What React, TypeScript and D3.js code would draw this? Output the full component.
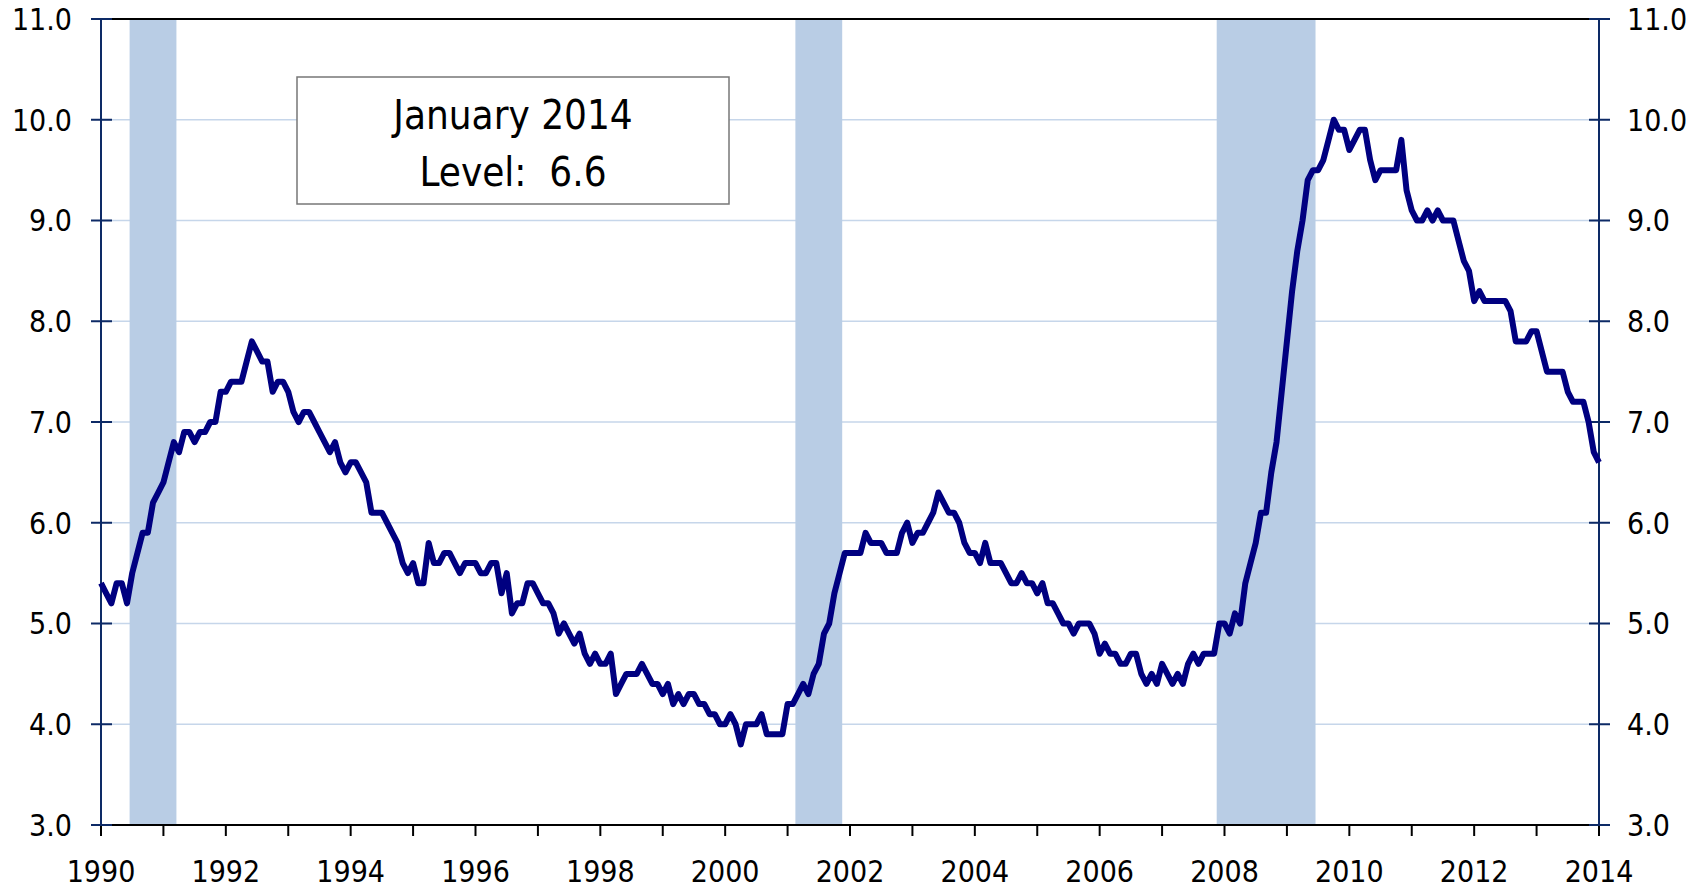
import React from 'react';
import * as d3 from 'd3';

// monthly unemployment rate, Jan 1990 .. Jan 2014
const START_YEAR = 1990;
const rates1990s = [
  5.4, 5.3, 5.2, 5.4, 5.4, 5.2, 5.5, 5.7, 5.9, 5.9, 6.2, 6.3,
  6.4, 6.6, 6.8, 6.7, 6.9, 6.9, 6.8, 6.9, 6.9, 7.0, 7.0, 7.3,
  7.3, 7.4, 7.4, 7.4, 7.6, 7.8, 7.7, 7.6, 7.6, 7.3, 7.4, 7.4,
  7.3, 7.1, 7.0, 7.1, 7.1, 7.0, 6.9, 6.8, 6.7, 6.8, 6.6, 6.5,
  6.6, 6.6, 6.5, 6.4, 6.1, 6.1, 6.1, 6.0, 5.9, 5.8, 5.6, 5.5,
  5.6, 5.4, 5.4, 5.8, 5.6, 5.6, 5.7, 5.7, 5.6, 5.5, 5.6, 5.6,
  5.6, 5.5, 5.5, 5.6, 5.6, 5.3, 5.5, 5.1, 5.2, 5.2, 5.4, 5.4,
  5.3, 5.2, 5.2, 5.1, 4.9, 5.0, 4.9, 4.8, 4.9, 4.7, 4.6, 4.7,
  4.6, 4.6, 4.7, 4.3, 4.4, 4.5, 4.5, 4.5, 4.6, 4.5, 4.4, 4.4,
  4.3, 4.4, 4.2, 4.3, 4.2, 4.3, 4.3, 4.2, 4.2, 4.1, 4.1, 4.0,
];
const rates2000s = [
  4.0, 4.1, 4.0, 3.8, 4.0, 4.0, 4.0, 4.1, 3.9, 3.9, 3.9, 3.9,
  4.2, 4.2, 4.3, 4.4, 4.3, 4.5, 4.6, 4.9, 5.0, 5.3, 5.5, 5.7,
  5.7, 5.7, 5.7, 5.9, 5.8, 5.8, 5.8, 5.7, 5.7, 5.7, 5.9, 6.0,
  5.8, 5.9, 5.9, 6.0, 6.1, 6.3, 6.2, 6.1, 6.1, 6.0, 5.8, 5.7,
  5.7, 5.6, 5.8, 5.6, 5.6, 5.6, 5.5, 5.4, 5.4, 5.5, 5.4, 5.4,
  5.3, 5.4, 5.2, 5.2, 5.1, 5.0, 5.0, 4.9, 5.0, 5.0, 5.0, 4.9,
  4.7, 4.8, 4.7, 4.7, 4.6, 4.6, 4.7, 4.7, 4.5, 4.4, 4.5, 4.4,
  4.6, 4.5, 4.4, 4.5, 4.4, 4.6, 4.7, 4.6, 4.7, 4.7, 4.7, 5.0,
  5.0, 4.9, 5.1, 5.0, 5.4, 5.6, 5.8, 6.1, 6.1, 6.5, 6.8, 7.3,
  7.8, 8.3, 8.7, 9.0, 9.4, 9.5, 9.5, 9.6, 9.8, 10.0, 9.9, 9.9,
];
const rates2010s = [
  9.7, 9.8, 9.9, 9.9, 9.6, 9.4, 9.5, 9.5, 9.5, 9.5, 9.8, 9.3,
  9.1, 9.0, 9.0, 9.1, 9.0, 9.1, 9.0, 9.0, 9.0, 8.8, 8.6, 8.5,
  8.2, 8.3, 8.2, 8.2, 8.2, 8.2, 8.2, 8.1, 7.8, 7.8, 7.8, 7.9,
  7.9, 7.7, 7.5, 7.5, 7.5, 7.5, 7.3, 7.2, 7.2, 7.2, 7.0, 6.7,
  6.6,
];

// recessions as [first month, last month] (year, month 1-12)
const recessions = [
  [[1990, 7], [1991, 3]],
  [[2001, 3], [2001, 11]],
  [[2007, 12], [2009, 6]],
];

const yTicks = [3, 4, 5, 6, 7, 8, 9, 10, 11];
const xLabelYears = [1990, 1992, 1994, 1996, 1998, 2000, 2002, 2004, 2006, 2008, 2010, 2012, 2014];
const noteLines = ['January 2014', 'Level:  6.6'];

const W = 1697;
const H = 888;
const margin = { top: 19, right: 98, bottom: 63, left: 101 };
const FONT = "Tahoma, 'DejaVu Sans Condensed', 'DejaVu Sans', sans-serif";

export default function App() {
  const values = [...rates1990s, ...rates2000s, ...rates2010s];
  const data = values.map((v, i) => ({ t: START_YEAR + i / 12, v }));

  const x = d3.scaleLinear().domain([1990, 2014]).range([margin.left, W - margin.right]);
  const y = d3.scaleLinear().domain([3, 11]).range([H - margin.bottom, margin.top]);
  const x0 = x.range()[0];
  const x1 = x.range()[1];
  const yTop = y(11);
  const yBot = y(3);

  const line = d3
    .line<{ t: number; v: number }>()
    .x(d => x(d.t))
    .y(d => y(d.v));

  const yearTicks = d3.range(1990, 2015);
  const half = 0.5 / 12;

  return (
    <svg
      width={W}
      height={H}
      style={{ position: 'absolute', left: 0, top: 0, background: '#fff' }}
      fontFamily={FONT}
    >
      {/* grid */}
      {yTicks.slice(1, -1).map(t => (
        <line key={t} x1={x0} x2={x1} y1={y(t)} y2={y(t)} stroke="#c6d6ea" strokeWidth={1.5} />
      ))}

      {/* recession bands */}
      {recessions.map(([a, b], i) => {
        const s = x(a[0] + (a[1] - 1) / 12 - half);
        const e = x(b[0] + (b[1] - 1) / 12 + half);
        return <rect key={i} x={s} y={yTop} width={e - s} height={yBot - yTop} fill="#b9cde5" />;
      })}

      {/* top border + x axis */}
      <line x1={x0} x2={x1} y1={yTop} y2={yTop} stroke="#000" strokeWidth={2} />
      <line x1={x0} x2={x1} y1={yBot} y2={yBot} stroke="#000" strokeWidth={2} />
      {yearTicks.map(yr => (
        <line key={yr} x1={x(yr)} x2={x(yr)} y1={yBot} y2={yBot + 11} stroke="#000" strokeWidth={2} />
      ))}
      {xLabelYears.map(yr => (
        <text key={yr} x={x(yr)} y={882} textAnchor="middle" fontSize={30} fill="#000">
          {yr}
        </text>
      ))}

      {/* left and right axes */}
      {[x0, x1].map((ax, i) => (
        <g key={i}>
          <line x1={ax} x2={ax} y1={yTop} y2={yBot} stroke="#0d2a66" strokeWidth={2} />
          {yTicks.map(t => (
            <line key={t} x1={ax - 10} x2={ax + 11} y1={y(t)} y2={y(t)} stroke="#0d2a66" strokeWidth={2} />
          ))}
          {yTicks.map(t => (
            <text
              key={t}
              x={i === 0 ? 72 : 1627}
              y={y(t)}
              dy="0.36em"
              textAnchor={i === 0 ? 'end' : 'start'}
              fontSize={30}
              fill="#000"
            >
              {d3.format('.1f')(t)}
            </text>
          ))}
        </g>
      ))}

      {/* series */}
      <path d={line(data) ?? ''} fill="none" stroke="#000080" strokeWidth={6} strokeLinejoin="round" />

      {/* note box */}
      <rect x={297} y={77} width={432} height={127} fill="#fff" stroke="#777" strokeWidth={1.5} />
      {noteLines.map((s, i) => (
        <text key={i} x={513} y={129 + i * 57} textAnchor="middle" fontSize={40} fill="#000" xmlSpace="preserve">
          {s}
        </text>
      ))}
    </svg>
  );
}
